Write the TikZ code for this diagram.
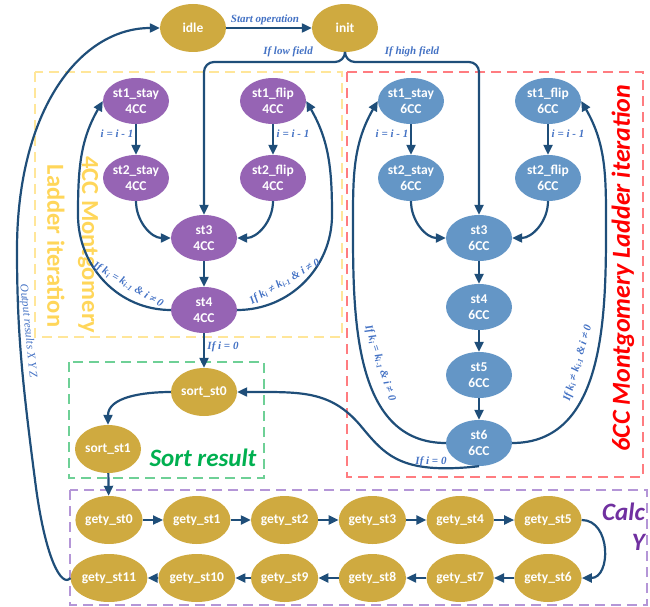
\documentclass[tikz,border=0pt]{standalone}
\usepackage{fontspec}
\setmainfont{Liberation Serif}
\newfontfamily\calib{Carlito}
\usetikzlibrary{arrows.meta,shapes.geometric}

\definecolor{gold}{RGB}{207,170,64}
\definecolor{purp}{RGB}{150,100,180}
\definecolor{steel}{RGB}{100,150,198}
\definecolor{arrowc}{RGB}{31,78,121}
\definecolor{lblue}{RGB}{68,114,196}
\definecolor{ylwbox}{RGB}{255,230,153}
\definecolor{ylwtxt}{RGB}{255,214,90}
\definecolor{redbox}{RGB}{255,124,128}
\definecolor{redtxt}{RGB}{255,0,0}
\definecolor{grnbox}{RGB}{110,208,150}
\definecolor{grntxt}{RGB}{0,176,80}
\definecolor{purbox}{RGB}{180,150,215}
\definecolor{purtxt}{RGB}{112,48,160}

\tikzset{
  state/.style={ellipse, minimum width=66pt, minimum height=46pt, inner sep=0pt,
    text=white, font=\calib\bfseries\fontsize{13.5}{16}\selectfont, align=center},
  goldst/.style={state, fill=gold},
  purst/.style={state, fill=purp},
  bluest/.style={state, fill=steel},
  flow/.style={draw=arrowc, line width=2.2pt, -{Triangle[length=10pt,width=9pt]}},
  lbl/.style={text=lblue, font=\bfseries\itshape\fontsize{11}{13}\selectfont, inner sep=0pt},
  grpbox/.style={dash pattern=on 10pt off 6pt, line width=1.5pt},
  grptxt/.style={font=\calib\bfseries\itshape\fontsize{25}{30}\selectfont, inner sep=0pt},
  laddertxt/.style={font=\calib\bfseries\fontsize{24.5}{30}\selectfont, text=ylwtxt, rotate=-90, inner sep=0pt},
}

\begin{document}
\begin{tikzpicture}[x=1pt,y=-1pt]
\useasboundingbox (0,0) rectangle (650,607);

% group frames
\draw[grpbox, draw=ylwbox] (35,72) rectangle (342,337);
\draw[grpbox, draw=redbox] (347,72) rectangle (643,477);
\draw[grpbox, draw=grnbox] (69,362) rectangle (264,478);
\draw[grpbox, draw=purbox] (70,490) rectangle (647,605);

% group titles
\node[laddertxt] (t4a) at (88,245) {4CC Montgomery};
\node[laddertxt] (t4b) at (56,246) {Ladder iteration};
\node[grptxt, text=redtxt, rotate=90, font=\calib\bfseries\itshape\fontsize{26}{30}\selectfont] (t6) at (623,268) {6CC Montgomery Ladder iteration};
\node[grptxt, text=grntxt] (tsort) at (203,458) {Sort result};
\node[grptxt, text=purtxt, anchor=east, align=right] (tcalc) at (645,527) {Calc\\Y};

% top states
\node[goldst, minimum height=48pt] (idle) at (193,28) {idle};
\node[goldst, minimum height=48pt] (init) at (345,28) {init};

% 4CC ladder
\node[purst] (s1s4) at (136,101) {st1\_stay\\4CC};
\node[purst] (s1f4) at (273,101) {st1\_flip\\4CC};
\node[purst] (s2s4) at (136,178) {st2\_stay\\4CC};
\node[purst] (s2f4) at (273,178) {st2\_flip\\4CC};
\node[purst] (st34) at (204,238) {st3\\4CC};
\node[purst] (st44) at (204,310) {st4\\4CC};

% 6CC ladder
\node[bluest] (s1s6) at (411,101) {st1\_stay\\6CC};
\node[bluest] (s1f6) at (548,101) {st1\_flip\\6CC};
\node[bluest] (s2s6) at (411,178) {st2\_stay\\6CC};
\node[bluest] (s2f6) at (548,178) {st2\_flip\\6CC};
\node[bluest] (st36) at (479,238) {st3\\6CC};
\node[bluest] (st46) at (479,307) {st4\\6CC};
\node[bluest] (st56) at (479,375) {st5\\6CC};
\node[bluest] (st66) at (479,443) {st6\\6CC};

% sorting
\node[goldst, minimum height=48pt] (sort0) at (204,392) {sort\_st0};
\node[goldst, minimum height=48pt] (sort1) at (108,449) {sort\_st1};

% Y computation
\foreach \k in {0,...,5} {
  \node[goldst, minimum height=48pt] (g\k) at ({109+87.8*\k},520) {gety\_st\k};
}
\foreach \k/\c in {6/5,7/4,8/3,9/2,10/1,11/0} {
  \node[goldst, minimum height=48pt] (g\k) at ({109+87.8*\c},578) {gety\_st\k};
}

% transitions
\draw[flow] (idle) -- (init);
\node[lbl] (lstart) at (265,20) {Start operation};

\draw[flow, rounded corners=10pt] (init.south) |- (204,62) -- (st34.north);
\draw[flow, rounded corners=10pt] (init.south) |- (479,62) -- (st36.north);
\node[lbl] (llow) at (288,52) {If low field};
\node[lbl] (lhigh) at (412,52) {If high field};

\draw[flow] (s1s4) -- (s2s4);
\draw[flow] (s1f4) -- (s2f4);
\draw[flow] (s1s6) -- (s2s6);
\draw[flow] (s1f6) -- (s2f6);
\node[lbl] (ldec1) at (117,134) {i = i - 1};
\node[lbl] (ldec2) at (293,134) {i = i - 1};
\node[lbl] (ldec3) at (392,134) {i = i - 1};
\node[lbl] (ldec4) at (568,134) {i = i - 1};

\draw[flow] (s2s4.south) to[out=-90,in=180] (st34.west);
\draw[flow] (s2f4.south) to[out=-90,in=0] (st34.east);
\draw[flow] (s2s6.south) to[out=-90,in=180] (st36.west);
\draw[flow] (s2f6.south) to[out=-90,in=0] (st36.east);

\draw[flow] (st34) -- (st44);
\draw[flow] (st36) -- (st46);
\draw[flow] (st46) -- (st56);
\draw[flow] (st56) -- (st66);

% ladder loops
\draw[flow] (st44.west) to[out=180,in=-90] (78,215) to[out=90,in=240] (s1s4.west);
\draw[flow] (st44.east) to[out=0,in=-90] (332,215) to[out=90,in=-60] (s1f4.east);
\draw[flow] (st66.west) to[out=180,in=-90] (353,230) to[out=90,in=240] (s1s6.west);
\draw[flow] (st66.east) to[out=0,in=-90] (606,230) to[out=90,in=-60] (s1f6.east);
\node[lbl, rotate=-30] (lk1) at (128,285) {If k\textsubscript{i} = k\textsubscript{i-1} \& i ≠ 0};
\node[lbl, rotate=30] (lk2) at (285,282) {If k\textsubscript{i} ≠ k\textsubscript{i-1} \& i ≠ 0};
\node[lbl, rotate=-72] (lk3) at (380,363) {If k\textsubscript{i} = k\textsubscript{i-1} \& i ≠ 0};
\node[lbl, rotate=74] (lk4) at (578,363) {If k\textsubscript{i} ≠ k\textsubscript{i-1} \& i ≠ 0};

% leaving the ladders
\draw[flow] (st44) -- (sort0);
\node[lbl] (lz1) at (223,347) {If i = 0};
\draw[flow] (st66.south) .. controls (400,475) and (385,455) .. (360,425)
  .. controls (330,390) and (300,392) .. (sort0.east);
\node[lbl] (lz2) at (431,462) {If i = 0};

\draw[flow] (sort0.west) to[out=180,in=90] (sort1.north);
\draw[flow] (sort1) -- (g0);

\foreach \a/\b in {0/1,1/2,2/3,3/4,4/5,6/7,7/8,8/9,9/10,10/11} {
  \draw[flow] (g\a) -- (g\b);
}
\draw[flow] (g5.east) to[out=0,in=0,looseness=1.3] (g6.east);

% back to idle
\draw[flow] (g11.west) .. controls (62,588) and (45,560) .. (35,480)
  .. controls (22,380) and (17,330) .. (17,250)
  .. controls (17,110) and (80,28) .. (idle.west);
\node[lbl, font=\itshape\fontsize{11.5}{13}\selectfont, rotate=-84] (lout) at (28,331) {Output results X Y Z};
\end{tikzpicture}
\end{document}
